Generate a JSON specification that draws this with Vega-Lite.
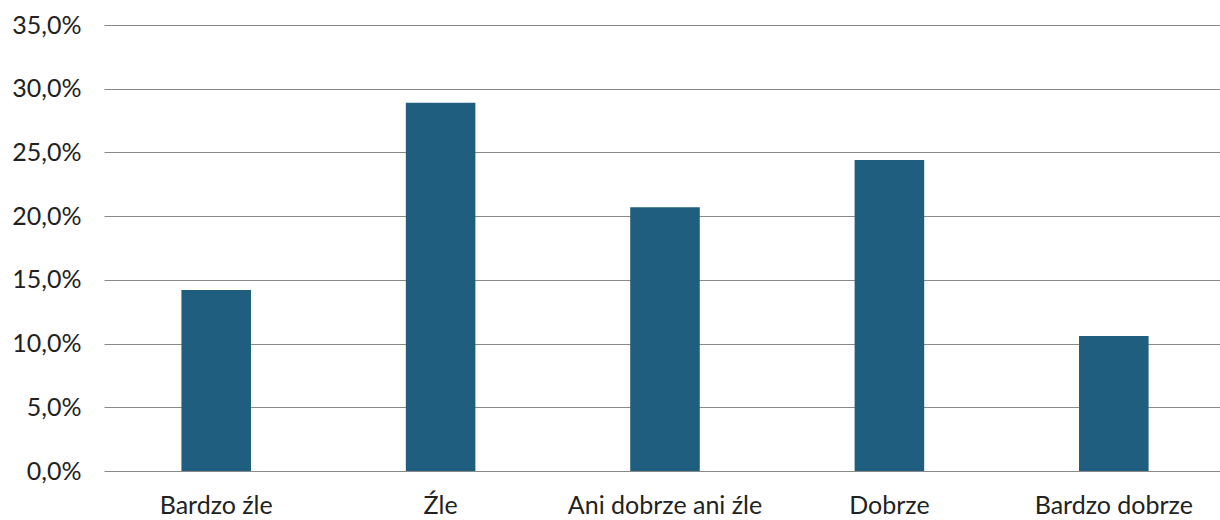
{
  "$schema": "https://vega.github.io/schema/vega-lite/v6.json",
  "autosize": "none",
  "width": 1122,
  "height": 446,
  "padding": {"left": 104, "top": 25, "right": 0, "bottom": 49},
  "background": "white",
  "config": {
    "view": {"stroke": null},
    "font": "Lato"
  },
  "data": {
    "values": [
      {"ocena": "Bardzo źle", "udzial": 0.142},
      {"ocena": "Źle", "udzial": 0.289},
      {"ocena": "Ani dobrze ani źle", "udzial": 0.207},
      {"ocena": "Dobrze", "udzial": 0.244},
      {"ocena": "Bardzo dobrze", "udzial": 0.106}
    ]
  },
  "mark": {"type": "bar", "color": "#1f5e7f"},
  "encoding": {
    "x": {
      "field": "ocena",
      "type": "nominal",
      "sort": null,
      "scale": {"paddingInner": 0.69, "paddingOuter": 0.345},
      "axis": {
        "title": null,
        "domain": false,
        "ticks": false,
        "labelAngle": 0,
        "labelLimit": 0,
        "labelFont": "Lato",
        "labelFontSize": 25,
        "labelColor": "#222222",
        "labelBaseline": "alphabetic",
        "labelPadding": 42
      }
    },
    "y": {
      "field": "udzial",
      "type": "quantitative",
      "scale": {"domain": [0, 0.35], "nice": false},
      "axis": {
        "title": null,
        "values": [0, 0.05, 0.1, 0.15, 0.2, 0.25, 0.3, 0.35],
        "labelExpr": "replace(format(datum.value * 100, '.1f'), '.', ',') + '%'",
        "domain": false,
        "ticks": false,
        "grid": true,
        "gridColor": "#8a8a8a",
        "gridWidth": 1,
        "labelFont": "Lato",
        "labelFontSize": 25,
        "labelColor": "#222222",
        "labelPadding": 23
      }
    }
  }
}
